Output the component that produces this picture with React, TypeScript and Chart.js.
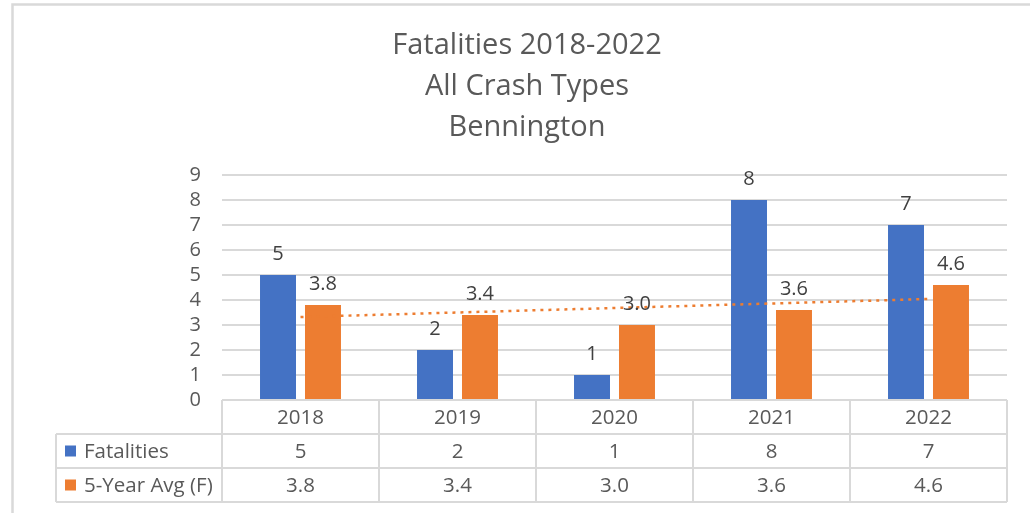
import React, { useEffect, useRef } from "react";
import { Chart, registerables } from "chart.js";

Chart.register(...registerables);

const categories = ["2018", "2019", "2020", "2021", "2022"];
const fatalities = [5, 2, 1, 8, 7];
const fiveYearAvg = [3.8, 3.4, 3.0, 3.6, 4.6];
// Linear trendline of the 5-year average, read at its two ends (2018 and 2022)
const trendline = [3.32, null, null, null, 4.04];
const titleLines = ["Fatalities 2018-2022", "All Crash Types", "Bennington"];
const seriesNames = ["Fatalities", "5-Year Avg (F)"];

const BLUE = "#4472C4";
const ORANGE = "#ED7D31";
const GRID = "#d9d9d9";
const TEXT = "#595959";
const FONT = "'Open Sans', 'Liberation Sans', sans-serif";

const framePlugin = {
  id: "frame",
  beforeDraw(chart: any) {
    const { ctx, width, height } = chart;
    ctx.save();
    ctx.fillStyle = "#ffffff";
    ctx.fillRect(0, 0, width, height);
    ctx.strokeStyle = GRID;
    ctx.lineWidth = 2.5;
    ctx.beginPath();
    ctx.moveTo(12.5, height);
    ctx.lineTo(12.5, 4.5);
    ctx.lineTo(width, 4.5);
    ctx.stroke();
    ctx.restore();
  },
};

const titlePlugin = {
  id: "titleLines",
  afterDraw(chart: any) {
    const { ctx } = chart;
    ctx.save();
    ctx.fillStyle = TEXT;
    ctx.font = `29px ${FONT}`;
    ctx.textAlign = "center";
    ctx.textBaseline = "alphabetic";
    const baselines = [54, 95, 136];
    titleLines.forEach((t, i) => ctx.fillText(t, 527, baselines[i]));
    ctx.restore();
  },
};

const barLabelPlugin = {
  id: "barLabels",
  afterDatasetsDraw(chart: any) {
    const { ctx } = chart;
    ctx.save();
    ctx.fillStyle = "#404040";
    ctx.font = `20px ${FONT}`;
    ctx.textAlign = "center";
    ctx.textBaseline = "alphabetic";
    [0, 1].forEach((di) => {
      const meta = chart.getDatasetMeta(di);
      const data = chart.data.datasets[di].data as number[];
      meta.data.forEach((bar: any, i: number) => {
        const txt = di === 0 ? String(data[i]) : data[i].toFixed(1);
        ctx.fillText(txt, bar.x, bar.y - 15);
      });
    });
    ctx.restore();
  },
};

const tablePlugin = {
  id: "dataTable",
  afterDraw(chart: any) {
    const { ctx, chartArea } = chart;
    const n = categories.length;
    const colW = (chartArea.right - chartArea.left) / n;
    const top = chartArea.bottom;
    const rowH = 34;
    const legendLeft = 56;
    const right = chartArea.right;
    ctx.save();
    ctx.strokeStyle = GRID;
    ctx.lineWidth = 2;
    ctx.beginPath();
    ctx.moveTo(chartArea.left, top);
    ctx.lineTo(right, top);
    for (let r = 1; r <= 3; r++) {
      ctx.moveTo(legendLeft, top + r * rowH);
      ctx.lineTo(right, top + r * rowH);
    }
    ctx.moveTo(legendLeft, top + rowH);
    ctx.lineTo(legendLeft, top + 3 * rowH);
    for (let c = 0; c <= n; c++) {
      const x = chartArea.left + c * colW;
      ctx.moveTo(x, top);
      ctx.lineTo(x, top + 3 * rowH);
    }
    ctx.stroke();

    ctx.fillStyle = TEXT;
    ctx.font = `20.5px ${FONT}`;
    ctx.textBaseline = "middle";
    ctx.textAlign = "center";
    const xs = chart.scales.x;
    categories.forEach((cat, i) => {
      const cx = xs.getPixelForValue(i);
      ctx.fillText(cat, cx, top + rowH / 2 + 1);
      ctx.fillText(String(fatalities[i]), cx, top + rowH * 1.5 + 1);
      ctx.fillText(fiveYearAvg[i].toFixed(1), cx, top + rowH * 2.5 + 1);
    });
    ctx.textAlign = "left";
    [BLUE, ORANGE].forEach((col, r) => {
      const cy = top + rowH * (1.5 + r);
      ctx.fillStyle = col;
      ctx.fillRect(65, cy - 5.5, 11, 11);
      ctx.fillStyle = TEXT;
      ctx.fillText(seriesNames[r], 84, cy + 1);
    });
    ctx.restore();
  },
};

export default function App() {
  const canvasRef = useRef<HTMLCanvasElement | null>(null);

  useEffect(() => {
    if (!canvasRef.current) return;
    const chart = new Chart(canvasRef.current, {
      type: "bar",
      data: {
        labels: categories,
        datasets: [
          {
            type: "bar",
            label: seriesNames[0],
            data: fatalities,
            backgroundColor: BLUE,
            categoryPercentage: 0.573,
            barPercentage: 0.8,
            order: 2,
          },
          {
            type: "bar",
            label: seriesNames[1],
            data: fiveYearAvg,
            backgroundColor: ORANGE,
            categoryPercentage: 0.573,
            barPercentage: 0.8,
            order: 2,
          },
          {
            type: "line",
            label: "Linear (5-Year Avg (F))",
            data: trendline as any,
            borderColor: ORANGE,
            borderWidth: 2.5,
            borderDash: [3, 5],
            pointRadius: 0,
            spanGaps: true,
            fill: false,
            order: 1,
          } as any,
        ],
      },
      options: {
        animation: false,
        responsive: true,
        maintainAspectRatio: false,
        layout: { padding: { top: 175, bottom: 113, left: 0, right: 23 } },
        plugins: {
          legend: { display: false },
          title: { display: false },
          tooltip: { enabled: false },
        },
        scales: {
          x: {
            display: false,
            offset: true,
          },
          y: {
            min: 0,
            max: 9,
            afterFit(scale: any) {
              scale.width = 222;
            },
            border: { display: false },
            grid: { color: GRID, lineWidth: 2, drawTicks: false },
            ticks: {
              stepSize: 1,
              autoSkip: false,
              padding: 21,
              color: TEXT,
              font: { family: FONT, size: 20 },
            },
          },
        },
      },
      plugins: [framePlugin, titlePlugin, barLabelPlugin, tablePlugin],
    });
    return () => chart.destroy();
  }, []);

  return (
    <div style={{ position: "absolute", left: 0, top: 0, width: 1030, height: 513 }}>
      <canvas ref={canvasRef} />
    </div>
  );
}
